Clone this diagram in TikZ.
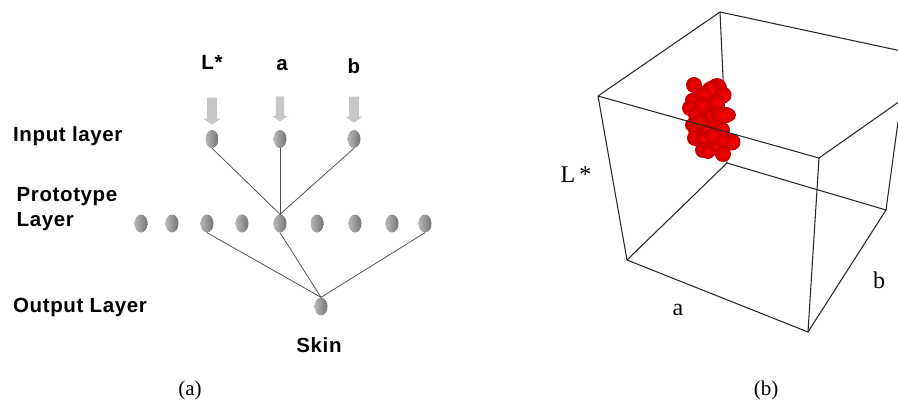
\documentclass[tikz,border=0pt]{standalone}
\usepackage{fontspec}
\setmainfont{Liberation Serif}
\newfontfamily\labfont[LetterSpace=3]{Liberation Sans}
\usetikzlibrary{shapes.geometric,shapes.arrows}
\tikzset{
  x=1pt,y=-1pt,
  neuron/.style={ellipse,minimum width=13pt,minimum height=18pt,inner sep=0pt,left color=gray!55,right color=gray!90!black,draw=none},
  inarrow/.style={single arrow,draw=none,fill=black!22,minimum width=17pt,minimum height=27pt,single arrow head extend=3.7pt,single arrow tip angle=110,shape border rotate=270,inner sep=4.7pt},
  layertext/.style={font=\labfont\bfseries\fontsize{20.5}{22}\selectfont,inner sep=0pt,align=left},
  serif/.style={font=\fontsize{24}{26}\selectfont,inner sep=0pt},
  capt/.style={font=\fontsize{21}{23}\selectfont,inner sep=0pt},
  link/.style={draw=black!70,line width=.75pt},
  edge3d/.style={draw=black!85,line width=1.05pt},
  redblob/.style={inner color=red,outer color=red!78!black}
}
\begin{document}
\begin{tikzpicture}
\useasboundingbox (0,0) rectangle (898,402);
% --- panel (a) ---
\node[layertext] (tl) at (212,62) {L*};
\node[layertext] (ta) at (282,65) {a};
\node[layertext] (tb) at (354,66) {b};
\node[inarrow] (al) at (212,109.5) {};
\node[inarrow,minimum height=25pt,minimum width=16pt,inner sep=3.7pt] (aa) at (280,107.5) {};
\node[inarrow,minimum height=26pt] (ab) at (354,108) {};
\node[neuron] (i1) at (212,139) {};
\node[neuron] (i2) at (280,139) {};
\node[neuron] (i3) at (354,139) {};
\foreach \n/\x in {1/141,2/172,3/207,4/242,5/280,6/317,7/355,8/392,9/425}
  \node[neuron] (p\n) at (\x,223.5) {};
\node[neuron] (o) at (321,306.5) {};
\draw[link] (i1.south) -- (p5.north);
\draw[link] (i2.south) -- (p5.north);
\draw[link] (i3.south) -- (p5.north);
\draw[link] (p3.south) -- (o.north);
\draw[link] (p5.south) -- (o.north);
\draw[link] (p9.south) -- (o.north);
\node[layertext,anchor=west] (n1) at (13,136) {Input layer};
\node[layertext,anchor=west] (n2) at (16.5,209) {Prototype\\[3pt]Layer};
\node[layertext,anchor=west] (n3) at (13,307) {Output Layer};
\node[layertext] (sk) at (319,345) {Skin};
\node[capt] (ca) at (190,390) {(a)};
% --- panel (b) ---
\begin{scope}
\clip (540,0) rectangle (898,402);
\coordinate (A) at (598,96);
\coordinate (B) at (720,12);
\coordinate (C) at (819,158);
\coordinate (D) at (950,66);
\coordinate (E) at (627,260);
\coordinate (F) at (727,163);
\coordinate (G) at (808,332);
\coordinate (H) at (886,210);
\coordinate (I) at (898,122);
\coordinate (J) at (920,55);
\draw[edge3d] (B) -- (F);
\draw[edge3d] (F) -- (E);
\draw[edge3d] (F) -- (H);
\foreach \x/\y/\r in {694/85/8,717/88/10,711/90/9,703/95/9,723/95/8.5,692/100/7,690/108/8,
  717/102/8,697/115/9,707/113/8,692/125/7,696/130/8,707/128/8,722/130/8,712/120/8,
  695/138/8,703/140/8,703/150/8,717/147/9,723/154/8,732/142/8.5,722/140/7,711/115/8,
  702/105/8,708/152/7,713/136/8,700/122/8}
  \shade[redblob] (\x,\y) circle (\r);
\shade[redblob] (723,115) ellipse (13 and 8.5);
\draw[edge3d] (A) -- (B) -- (J);
\draw[edge3d] (A) -- (C) -- (D);
\draw[edge3d] (A) -- (E) -- (G) -- (H) -- (I);
\draw[edge3d] (C) -- (G);
\end{scope}
\node[serif] (ll) at (576,175) {L\,*};
\node[serif] (la) at (678,310) {a};
\node[serif] (lb) at (879,280) {b};
\node[capt] (cb) at (766,390) {(b)};
\end{tikzpicture}
\end{document}
